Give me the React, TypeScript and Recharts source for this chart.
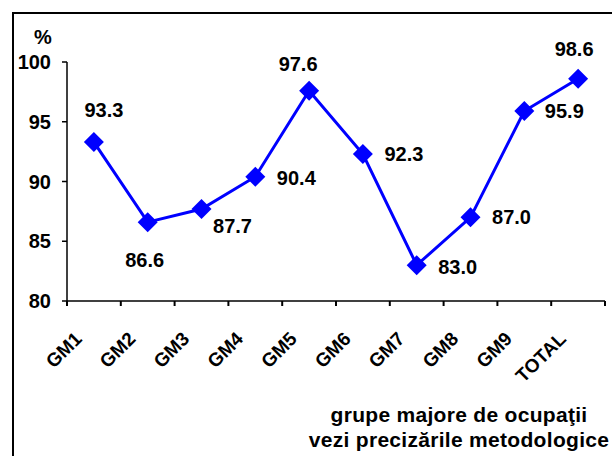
import React from "react";
import { LineChart, Line, XAxis, YAxis } from "recharts";

const CATEGORIES = ["GM1", "GM2", "GM3", "GM4", "GM5", "GM6", "GM7", "GM8", "GM9", "TOTAL"];
const VALUES = [93.3, 86.6, 87.7, 90.4, 97.6, 92.3, 83.0, 87.0, 95.9, 98.6];
const Y_TICKS = [80, 85, 90, 95, 100];
const AXIS_TITLE = ["grupe majore de ocupaţii", "vezi precizările metodologice"];

const data = CATEGORIES.map((name, i) => ({ name, value: VALUES[i] }));

const W = 612;
const H = 456;
const MARGIN = { top: 62, right: 7, bottom: 0, left: 0 };
const Y_WIDTH = 67;
const AXIS_Y = 301;
const BAND = (W - Y_WIDTH - MARGIN.right) / CATEGORIES.length;
const FONT = "'Liberation Sans', Arial, Helvetica, sans-serif";
const BLUE = "#0000FF";

// where each value label sits, relative to its marker
const LABEL_OFFSETS: [number, number][] = [
  [10, -32],
  [-3, 38],
  [31, 17],
  [41, 1],
  [-11, -27],
  [41, 0],
  [41, 2],
  [41, 0],
  [40, 0],
  [-4, -30],
];

function Diamond(props: any) {
  const { cx, cy, index } = props;
  if (cx == null || cy == null) return null;
  const r = 10;
  return (
    <polygon
      key={`d-${index}`}
      points={`${cx},${cy - r} ${cx + r},${cy} ${cx},${cy + r} ${cx - r},${cy}`}
      fill={BLUE}
    />
  );
}

function ValueLabel(props: any) {
  const { x, y, value, index } = props;
  const [dx, dy] = LABEL_OFFSETS[index] || [0, -25];
  return (
    <text
      x={x + dx}
      y={y + dy}
      textAnchor="middle"
      dominantBaseline="central"
      fontFamily={FONT}
      fontWeight="bold"
      fontSize={20}
      fill="#000"
    >
      {Number(value).toFixed(1)}
    </text>
  );
}

// tick marks sit on the category boundaries, labels are slanted at 45°
function XTick(props: any) {
  const { x, payload, index } = props;
  const half = BAND / 2;
  return (
    <g>
      <line x1={x - half} y1={AXIS_Y} x2={x - half} y2={AXIS_Y + 5} stroke="#000" strokeWidth={2} />
      {index === CATEGORIES.length - 1 && (
        <line x1={x + half} y1={AXIS_Y} x2={x + half} y2={AXIS_Y + 5} stroke="#000" strokeWidth={2} />
      )}
      <g transform={`translate(${x - 11},${AXIS_Y + 39})`}>
        <text
          x={0}
          y={0}
          transform="rotate(-45)"
          textAnchor="end"
          fontFamily={FONT}
          fontWeight="bold"
          fontSize={19}
          fill="#000"
        >
          {payload.value}
        </text>
      </g>
    </g>
  );
}

export default function App() {
  return (
    <div
      style={{
        position: "absolute",
        left: 0,
        top: 0,
        width: W,
        height: H,
        overflow: "hidden",
        background: "#fff",
      }}
    >
      <div
        style={{
          position: "absolute",
          left: 12,
          top: 12,
          width: 800,
          height: 800,
          borderLeft: "2px solid #000",
          borderTop: "2px solid #000",
        }}
      />
      <div style={{ position: "absolute", left: 0, top: 0 }}>
        <LineChart width={W} height={H} data={data} margin={MARGIN}>
          <XAxis
            dataKey="name"
            height={H - AXIS_Y}
            padding={{ left: BAND / 2, right: BAND / 2 }}
            tickSize={0}
            tickMargin={0}
            tickLine={false}
            axisLine={{ stroke: "#000", strokeWidth: 1.5 }}
            tick={(p: any) => <XTick {...p} />}
            interval={0}
          />
          <YAxis
            type="number"
            domain={[80, 100]}
            ticks={Y_TICKS}
            width={Y_WIDTH}
            tickSize={5}
            tickMargin={11}
            axisLine={{ stroke: "#000", strokeWidth: 1.5 }}
            tickLine={{ stroke: "#000", strokeWidth: 1.5 }}
            tick={{ fontFamily: FONT, fontWeight: "bold", fontSize: 20, fill: "#000" }}
            interval={0}
          />
          <Line
            type="linear"
            dataKey="value"
            stroke={BLUE}
            strokeWidth={3}
            dot={<Diamond />}
            activeDot={false}
            label={<ValueLabel />}
            isAnimationActive={false}
          />
        </LineChart>
      </div>
      <svg
        width={W}
        height={H}
        style={{ position: "absolute", left: 0, top: 0, pointerEvents: "none" }}
      >
        <text
          x={43}
          y={37}
          textAnchor="middle"
          dominantBaseline="central"
          fontFamily={FONT}
          fontWeight="bold"
          fontSize={20}
        >
          %
        </text>
        {AXIS_TITLE.map((line, i) => (
          <text
            key={line}
            x={459}
            y={422 + i * 25}
            textAnchor="middle"
            fontFamily={FONT}
            fontWeight="bold"
            fontSize={21}
            letterSpacing={0.3}
          >
            {line}
          </text>
        ))}
      </svg>
    </div>
  );
}
